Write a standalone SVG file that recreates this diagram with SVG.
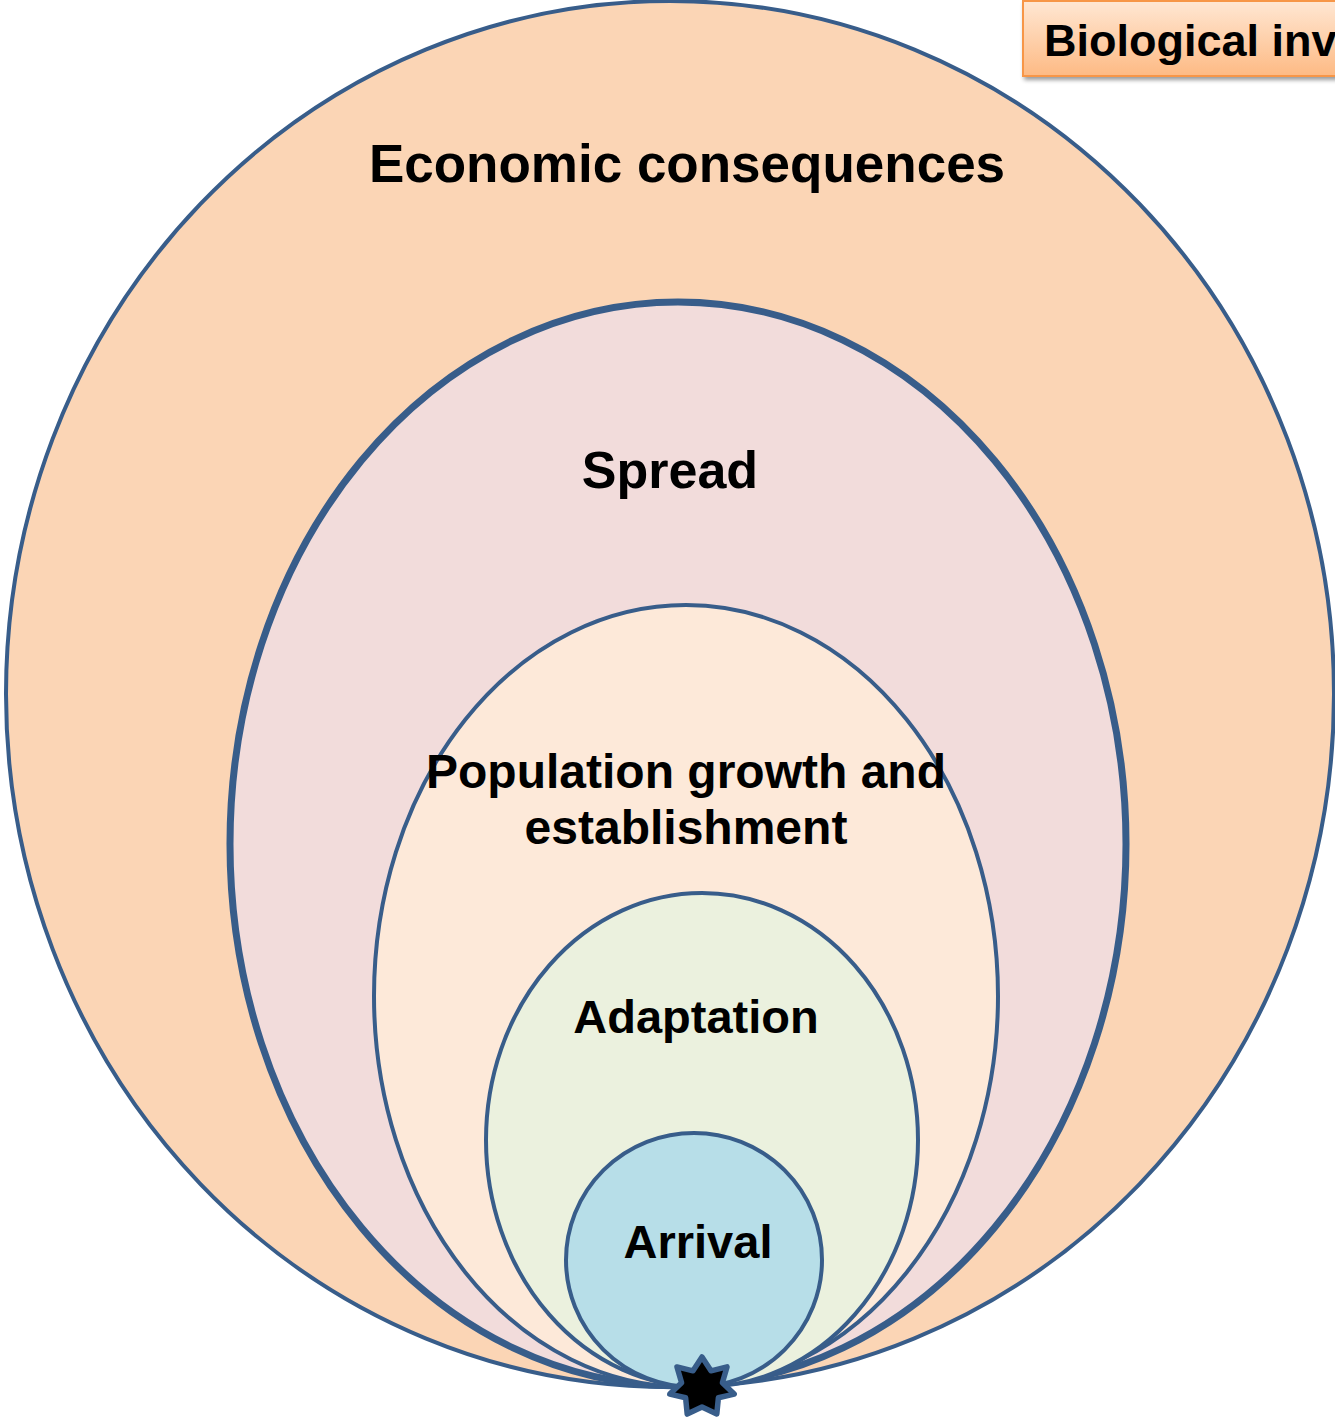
<svg xmlns="http://www.w3.org/2000/svg" width="1335" height="1418" viewBox="0 0 1335 1418">
  <style>
    .ring { stroke: #385D8A; stroke-width: 4; }
    .ring.thick { stroke-width: 7; }
    .lbl { font-family: "Liberation Sans", Arial, sans-serif; font-weight: bold; fill: #000; text-anchor: middle; }
  </style>
  <defs>
    <linearGradient id="boxFill" x1="0" y1="0" x2="0" y2="1">
      <stop offset="0" stop-color="#FFE7D3"/>
      <stop offset="1" stop-color="#FDBA84"/>
    </linearGradient>
    <filter id="shadow" x="-10%" y="-20%" width="130%" height="160%">
      <feGaussianBlur in="SourceAlpha" stdDeviation="2"/>
      <feOffset dx="2" dy="3" result="b"/>
      <feComponentTransfer><feFuncA type="linear" slope="0.4"/></feComponentTransfer>
      <feMerge><feMergeNode/><feMergeNode in="SourceGraphic"/></feMerge>
    </filter>
  </defs>

  <rect width="1335" height="1418" fill="#FFFFFF"/>

  <g id="economic">
    <ellipse class="ring" cx="670" cy="694" rx="664" ry="693" fill="#FBD5B5"/>
    <text class="lbl" x="687" y="182" font-size="53">Economic consequences</text>
  </g>

  <g id="spread">
    <ellipse class="ring thick" cx="678" cy="844" rx="448" ry="542" fill="#F2DCDB"/>
    <text class="lbl" x="670" y="488" font-size="52">Spread</text>
  </g>

  <g id="population">
    <ellipse class="ring" cx="686" cy="996" rx="312" ry="391" fill="#FDE9D9"/>
    <text class="lbl" x="686" y="788" font-size="48">Population growth and</text>
    <text class="lbl" x="686" y="844" font-size="48">establishment</text>
  </g>

  <g id="adaptation">
    <ellipse class="ring" cx="702" cy="1140" rx="216" ry="247" fill="#EBF1DE"/>
    <text class="lbl" x="696" y="1033" font-size="47">Adaptation</text>
  </g>

  <g id="arrival">
    <ellipse class="ring" cx="694" cy="1260" rx="128" ry="127" fill="#B7DEE8"/>
    <text class="lbl" x="698" y="1258" font-size="47">Arrival</text>
  </g>

  <!-- seven-pointed star marking the point of entry -->
  <g id="origin">
    <polygon points="702.0,1357.0 711.0,1370.8 727.0,1366.9 722.4,1382.7 734.2,1394.1 718.4,1397.7 716.8,1414.1 702.0,1407.0 687.2,1414.1 685.6,1397.7 669.8,1394.1 681.6,1382.7 677.0,1366.9 693.0,1370.8" fill="#000000" stroke="#385D8A" stroke-width="5.5" stroke-linejoin="round"/>
  </g>

  <g id="title">
    <rect x="1023" y="1" width="340" height="75" fill="url(#boxFill)" stroke="#F79646" stroke-width="2" filter="url(#shadow)"/>
    <text x="1044" y="56" font-family="Liberation Sans, Arial, sans-serif" font-weight="bold" font-size="45" fill="#000">Biological inv</text>
  </g>

  <g id="connectors"/>
</svg>
